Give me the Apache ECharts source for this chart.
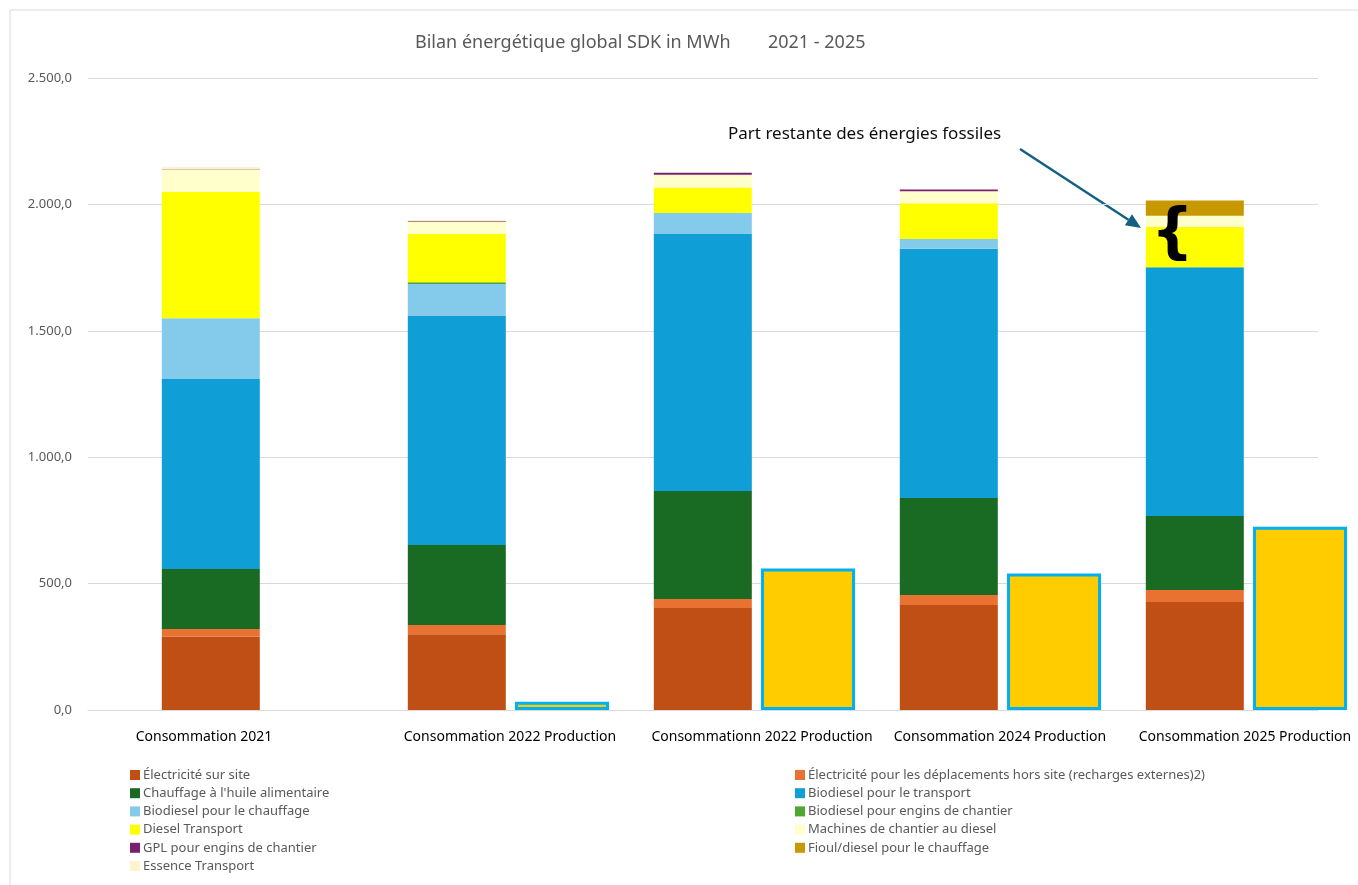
<!DOCTYPE html>
<html>
<head>
<meta charset="utf-8">
<script src="https://cdn.jsdelivr.net/npm/echarts@6/dist/echarts.min.js"></script>
<style>
html,body{margin:0;padding:0;background:#fff;}
#chart{width:1358px;height:885px;}
</style>
</head>
<body>
<div id="chart"></div>
<script>
// ---- Data ----
const categories = ['Consommation 2021', 'Consommation 2022 Production', 'Consommationn 2022 Production', 'Consommation 2024 Production', 'Consommation 2025 Production'];
const yTicks = [0, 500, 1000, 1500, 2000, 2500];

const elecSite        = [290, 300, 403, 415, 427];
const elecHorsSite    = [30, 36, 36, 40, 48];
const chauffageHuile  = [238, 317, 427, 384, 292];
const bioTransport    = [751, 906, 1017, 986, 984];
const bioChauffage    = [241, 126, 83, 38, 0];
const bioEngins       = [0, 7, 0, 0, 0];
const dieselTransport = [499, 191, 101, 142, 161];
const machinesDiesel  = [87, 47, 50, 47, 43];
const gplEngins       = [2, 3, 8, 7, 0];
const fioulChauffage  = [0, 0, 0, 0, 60];
const essenceTransport= [10, 6, 0, 0, 0];
const production      = [null, 33, 560, 540, 725];

const seriesNames = [
  'Électricité sur site',
  'Électricité pour les déplacements hors site (recharges externes)2)',
  "Chauffage à l'huile alimentaire",
  'Biodiesel pour le transport',
  'Biodiesel pour le chauffage',
  'Biodiesel pour engins de chantier',
  'Diesel Transport',
  'Machines de chantier au diesel',
  'GPL pour engins de chantier',
  'Fioul/diesel pour le chauffage',
  'Essence Transport'
];
const seriesData = [elecSite, elecHorsSite, chauffageHuile, bioTransport, bioChauffage, bioEngins, dieselTransport, machinesDiesel, gplEngins, fioulChauffage, essenceTransport];

// ---- Styles / layout ----
const colors = ['#C04F15', '#E97132', '#196B24', '#0F9ED5', '#83CAEB', '#4EA72E', '#FFFF00', '#FFFFCC', '#78206E', '#C89800', '#FFF2CC'];
const labelShift = [-7, 53, 59, 51, 50];
const FONT = '"Noto Sans", sans-serif';

const chart = echarts.init(document.getElementById('chart'), null, {renderer: 'canvas'});

const rich = {};
labelShift.forEach((s, i) => {
  rich['p' + i] = {
    fontFamily: FONT, fontSize: 14, color: '#000000',
    padding: s >= 0 ? [0, 0, 0, 2 * s] : [0, -2 * s, 0, 0]
  };
});

const BAR_GAP = '9.4%';
const series = [];
series.push({
  name: '__spacer', type: 'bar', stack: 'spacer', barWidth: 94, barGap: BAR_GAP,
  data: categories.map(() => null), silent: true, legendHoverLink: false
});
seriesData.forEach((d, i) => {
  series.push({
    name: seriesNames[i], type: 'bar', stack: 'conso', barWidth: 98, barGap: BAR_GAP,
    itemStyle: {color: colors[i]},
    emphasis: {disabled: true},
    data: d
  });
});
series.push({
  name: 'Production', type: 'bar', stack: 'prod', barWidth: 94, barGap: BAR_GAP, clip: false,
  itemStyle: {color: '#FFCC00', borderColor: '#00B0F0', borderWidth: 3},
  emphasis: {disabled: true},
  data: production
});

const leftItems = [0, 2, 4, 6, 8, 10].map(i => seriesNames[i]);
const rightItems = [1, 3, 5, 7, 9].map(i => seriesNames[i]);
const legendCommon = {
  orient: 'vertical', itemWidth: 10, itemHeight: 10, itemGap: 2.2, padding: 0,
  icon: 'rect',
  textStyle: {fontFamily: FONT, fontSize: 13, color: '#595959', lineHeight: 16, padding: [0, 0, 0, -2]},
  selectedMode: false
};

// arrow geometry for annotation
const ax0 = 1020, ay0 = 149, ax1 = 1141, ay1 = 228;
const dx = ax1 - ax0, dy = ay1 - ay0, L = Math.hypot(dx, dy);
const ux = dx / L, uy = dy / L, hl = 15, hw = 6.5;
const bx = ax1 - ux * hl, by = ay1 - uy * hl;

chart.setOption({
  animation: false,
  backgroundColor: '#ffffff',
  title: {
    text: 'Bilan énergétique global SDK in MWh        2021 - 2025',
    left: 410, top: 29,
    textStyle: {fontFamily: FONT, fontSize: 18, fontWeight: 'normal', color: '#595959'}
  },
  legend: [
    Object.assign({}, legendCommon, {left: 130, top: 767, data: leftItems}),
    Object.assign({}, legendCommon, {left: 795, top: 767, data: rightItems})
  ],
  grid: {left: 88, right: 40, top: 78, bottom: 175, containLabel: false},
  xAxis: {
    type: 'category', data: categories,
    axisLine: {show: true, lineStyle: {color: '#D9D9D9', width: 1}},
    axisTick: {show: false},
    axisLabel: {
      interval: 0, margin: 20,
      formatter: (v, i) => '{p' + i + '|' + v + '}',
      rich: rich
    }
  },
  yAxis: {
    type: 'value', min: yTicks[0], max: yTicks[yTicks.length - 1], interval: 500,
    axisLine: {show: false}, axisTick: {show: false},
    splitLine: {lineStyle: {color: '#D9D9D9', width: 1}},
    axisLabel: {
      margin: 16, fontFamily: FONT, fontSize: 13, color: '#595959',
      formatter: v => {
        const s = Math.round(v).toString().replace(/\B(?=(\d{3})+(?!\d))/g, '.');
        return s + ',0';
      }
    }
  },
  graphic: [
    {type: 'rect', shape: {x: 10, y: 10, width: 1400, height: 900}, style: {fill: 'none', stroke: '#D9D9D9', lineWidth: 1}, silent: true, z: -10},
    {type: 'text', left: 728, top: 126, style: {text: 'Part restante des énergies fossiles', fontFamily: FONT, fontSize: 17, fill: '#0D0D0D'}},
    {type: 'line', shape: {x1: ax0, y1: ay0, x2: bx, y2: by}, style: {stroke: '#156082', lineWidth: 2.5}},
    {type: 'polygon', shape: {points: [[ax1, ay1], [bx - uy * hw, by + ux * hw], [bx + uy * hw, by - ux * hw]]}, style: {fill: '#156082'}},
    {type: 'text', x: 1151, y: 205, z: 100, style: {text: '{', fontFamily: '"DejaVu Sans"', fontSize: 60, fill: '#000000', fontWeight: 'bold'}}
  ],
  series: series
});
</script>
</body>
</html>
